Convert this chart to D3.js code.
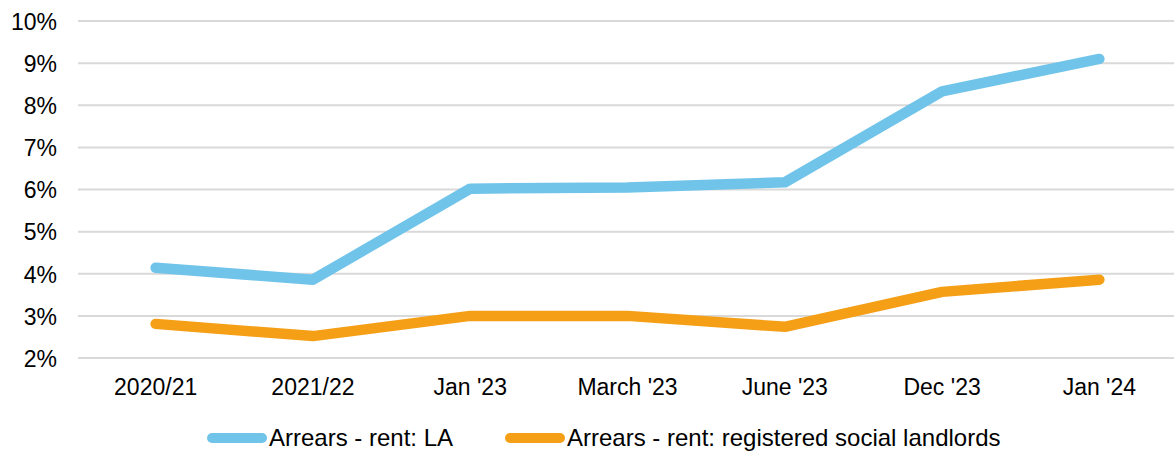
<!DOCTYPE html>
<html>
<head>
<meta charset="utf-8">
<script src="https://cdn.jsdelivr.net/npm/d3@7"></script>
<style>
  body { margin: 0; background: #fff; }
  text { font-family: "Liberation Sans", Arial, sans-serif; fill: #000; }
</style>
</head>
<body>
<div id="chartArea"></div>
<script>
// chart data
var categories = ['2020/21', '2021/22', "Jan '23", "March '23", "June '23", "Dec '23", "Jan '24"];
var rentLA = [4.14, 3.86, 6.02, 6.05, 6.17, 8.33, 9.10];
var rentRSL = [2.81, 2.52, 3.00, 3.00, 2.74, 3.57, 3.86];
var yTicks = [2, 3, 4, 5, 6, 7, 8, 9, 10];
var seriesNames = ['Arrears - rent: LA', 'Arrears - rent: registered social landlords'];
var colors = ['#70c4e9', '#f59f17'];

var width = 1174, height = 451;
var plotLeft = 78, plotRight = 1174, plotTop = 21, plotBottom = 358;

var svg = d3.select('#chartArea').append('svg')
  .attr('width', width)
  .attr('height', height);

// category band slightly wider than the visible plot, as in the original
var x = d3.scaleBand().domain(categories).range([77, 1178]);
var y = d3.scaleLinear().domain([2, 10]).range([plotBottom, plotTop]);

// gridlines
svg.selectAll('line.grid')
  .data(yTicks)
  .enter()
  .append('line')
  .attr('class', 'grid')
  .attr('x1', plotLeft)
  .attr('x2', plotRight)
  .attr('y1', function (d) { return y(d); })
  .attr('y2', function (d) { return y(d); })
  .attr('stroke', '#d9d9d9')
  .attr('stroke-width', 2);

// y axis labels
var yAxis = d3.axisLeft(y).tickValues(yTicks).tickFormat(function (d) { return d + '%'; }).tickSize(0).tickPadding(0);
var gy = svg.append('g').attr('transform', 'translate(57,0)').call(yAxis);
gy.select('.domain').remove();
gy.selectAll('text').style('font-size', '23px').attr('x', 0).attr('dy', '0.36em');

// x axis labels
var xAxis = d3.axisBottom(x).tickSize(0).tickPadding(0);
var gx = svg.append('g').attr('transform', 'translate(0,395)').call(xAxis);
gx.select('.domain').remove();
gx.selectAll('text').style('font-size', '23px').attr('y', 0).attr('dy', 0);

// lines
var line = d3.line()
  .x(function (d, i) { return x(categories[i]) + x.bandwidth() / 2; })
  .y(function (d) { return y(d); });

[rentLA, rentRSL].forEach(function (s, i) {
  svg.append('path')
    .datum(s)
    .attr('d', line)
    .attr('fill', 'none')
    .attr('stroke', colors[i])
    .attr('stroke-width', 10.5)
    .attr('stroke-linecap', 'round')
    .attr('stroke-linejoin', 'round');
});

// legend
var legendX = [212, 510];
seriesNames.forEach(function (name, i) {
  var g = svg.append('g').attr('transform', 'translate(' + legendX[i] + ',438)');
  g.append('line')
    .attr('x1', 0).attr('x2', 50)
    .attr('stroke', colors[i])
    .attr('stroke-width', 10)
    .attr('stroke-linecap', 'round');
  g.append('text')
    .attr('x', 57)
    .attr('dy', '0.35em')
    .style('font-size', '24px')
    .text(name);
});
</script>
</body>
</html>
